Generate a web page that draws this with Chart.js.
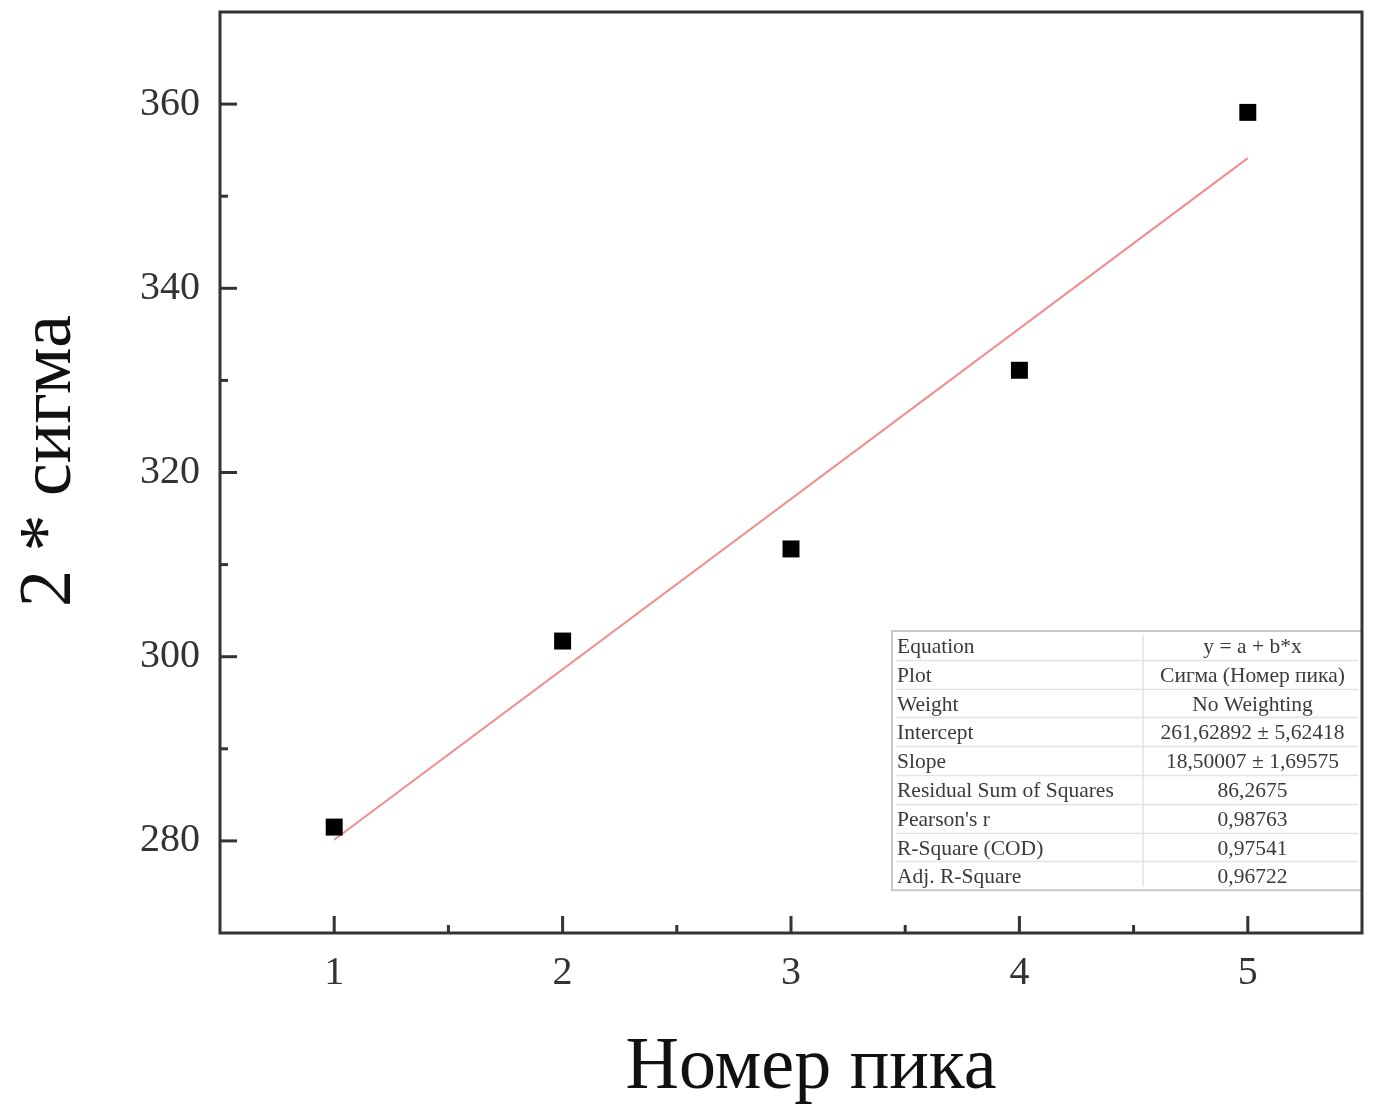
<!DOCTYPE html>
<html>
<head>
<meta charset="utf-8">
<script src="https://cdn.jsdelivr.net/npm/chart.js@4.4.1/dist/chart.umd.min.js"></script>
<style>
  html, body { margin: 0; padding: 0; background: #fff; }
  #wrap { width: 1384px; height: 1106px; }
</style>
</head>
<body>
<div id="wrap"><canvas id="sigmaChart" width="1384" height="1106"></canvas></div>
<script>
// measured peaks
const peakNumbers = [1, 2, 3, 4, 5];
const sigmaValues = [281.5, 301.7, 311.7, 331.1, 359.1];

// linear fit y = a + b*x, drawn over the measured range
const fitRange = [1, 5];
const fitIntercept = 261.62892;
const fitSlope = 18.50007;

const xTicks = [1, 2, 3, 4, 5];
const xMinorTicks = [1.5, 2.5, 3.5, 4.5];
const yTicks = [280, 300, 320, 340, 360];
const yMinorTicks = [290, 310, 330, 350];

const statLabels = ['Equation', 'Plot', 'Weight', 'Intercept', 'Slope',
    'Residual Sum of Squares', "Pearson's r", 'R-Square (COD)', 'Adj. R-Square'];
const statValues = ['y = a + b*x', 'Сигма (Номер пика)', 'No Weighting',
    '261,62892 ± 5,62418', '18,50007 ± 1,69575', '86,2675', '0,98763', '0,97541', '0,96722'];

const SERIF = '"Liberation Serif", "DejaVu Serif", serif';
const AXIS_COLOR = '#333';

// frame, inward ticks, axis titles and the fit statistics table
const framePlugin = {
    id: 'frame',
    afterDatasetsDraw(chart) {
        const { ctx, chartArea: a, scales: { x, y } } = chart;
        ctx.save();

        // stats table, lower right corner
        const tblLeft = 892, tblRight = a.right, tblTop = 631, rowH = 28.8;
        const colSplit = 1143;
        const tblBottom = tblTop + rowH * statLabels.length;
        ctx.fillStyle = '#fff';
        ctx.fillRect(tblLeft, tblTop, tblRight - tblLeft, tblBottom - tblTop);
        ctx.strokeStyle = '#e2e2e2';
        ctx.lineWidth = 1.5;
        for (let i = 1; i < statLabels.length; i++) {
            const ry = Math.round(tblTop + rowH * i) + 0.5;
            ctx.beginPath();
            ctx.moveTo(tblLeft + 4, ry);
            ctx.lineTo(tblRight - 4, ry);
            ctx.stroke();
        }
        ctx.beginPath();
        ctx.moveTo(colSplit, tblTop + 4);
        ctx.lineTo(colSplit, tblBottom - 4);
        ctx.stroke();
        ctx.strokeStyle = '#c8c8c8';
        ctx.lineWidth = 2;
        ctx.strokeRect(tblLeft, tblTop, tblRight - tblLeft, tblBottom - tblTop);

        ctx.fillStyle = '#3a3a3a';
        ctx.font = '21.5px ' + SERIF;
        ctx.textBaseline = 'middle';
        statLabels.forEach((label, i) => {
            const cy = tblTop + rowH * (i + 0.5) + 2;
            ctx.textAlign = 'left';
            ctx.fillText(label, tblLeft + 5, cy);
            ctx.textAlign = 'center';
            ctx.fillText(statValues[i], (colSplit + tblRight) / 2, cy);
        });

        // box
        ctx.strokeStyle = AXIS_COLOR;
        ctx.lineWidth = 3;
        ctx.strokeRect(a.left, a.top, a.right - a.left, a.bottom - a.top);

        // ticks pointing inside
        const tick = (x1, y1, x2, y2) => {
            ctx.beginPath();
            ctx.moveTo(x1, y1);
            ctx.lineTo(x2, y2);
            ctx.stroke();
        };
        xTicks.forEach(v => { const px = x.getPixelForValue(v); tick(px, a.bottom, px, a.bottom - 17); });
        xMinorTicks.forEach(v => { const px = x.getPixelForValue(v); tick(px, a.bottom, px, a.bottom - 8); });
        yTicks.forEach(v => { const py = y.getPixelForValue(v); tick(a.left, py, a.left + 17, py); });
        yMinorTicks.forEach(v => { const py = y.getPixelForValue(v); tick(a.left, py, a.left + 8, py); });

        // axis titles
        ctx.fillStyle = '#111';
        ctx.font = '74px ' + SERIF;
        ctx.textAlign = 'center';
        ctx.textBaseline = 'alphabetic';
        ctx.fillText('Номер пика', 811, 1088);

        ctx.translate(70, 461);
        ctx.rotate(-Math.PI / 2);
        ctx.fillText('2 * сигма', 0, 0);
        ctx.restore();
    }
};

const tickFont = { family: SERIF, size: 40 };

new Chart(document.getElementById('sigmaChart'), {
    type: 'scatter',
    data: {
        datasets: [
            {
                label: 'Сигма',
                data: peakNumbers.map((n, i) => ({ x: n, y: sigmaValues[i] })),
                pointStyle: 'rect',
                pointRadius: 12,
                pointHoverRadius: 12,
                backgroundColor: '#000',
                borderColor: '#000',
                borderWidth: 0,
                order: 1
            },
            {
                label: 'Fit',
                type: 'line',
                data: fitRange.map(v => ({ x: v, y: fitIntercept + fitSlope * v })),
                borderColor: '#f28b8b',
                borderWidth: 2,
                pointRadius: 0,
                fill: false,
                order: 2
            }
        ]
    },
    options: {
        responsive: false,
        devicePixelRatio: 1,
        animation: false,
        layout: { padding: { top: 12, right: 22, left: 0, bottom: 0 } },
        plugins: {
            legend: { display: false },
            tooltip: { enabled: false }
        },
        scales: {
            x: {
                type: 'linear',
                min: 0.5,
                max: 5.5,
                afterBuildTicks: s => { s.ticks = xTicks.map(v => ({ value: v })); },
                afterFit: s => { s.height = 173; s.paddingLeft = 0; s.paddingRight = 0; },
                grid: { display: false, drawTicks: false },
                border: { display: false },
                ticks: { font: tickFont, color: AXIS_COLOR, padding: 16 }
            },
            y: {
                min: 270,
                max: 370,
                afterBuildTicks: s => { s.ticks = yTicks.map(v => ({ value: v })); },
                afterFit: s => { s.width = 220; s.paddingTop = 0; s.paddingBottom = 0; },
                grid: { display: false, drawTicks: false },
                border: { display: false },
                ticks: { font: tickFont, color: AXIS_COLOR, padding: 20 }
            }
        }
    },
    plugins: [framePlugin]
});
</script>
</body>
</html>
